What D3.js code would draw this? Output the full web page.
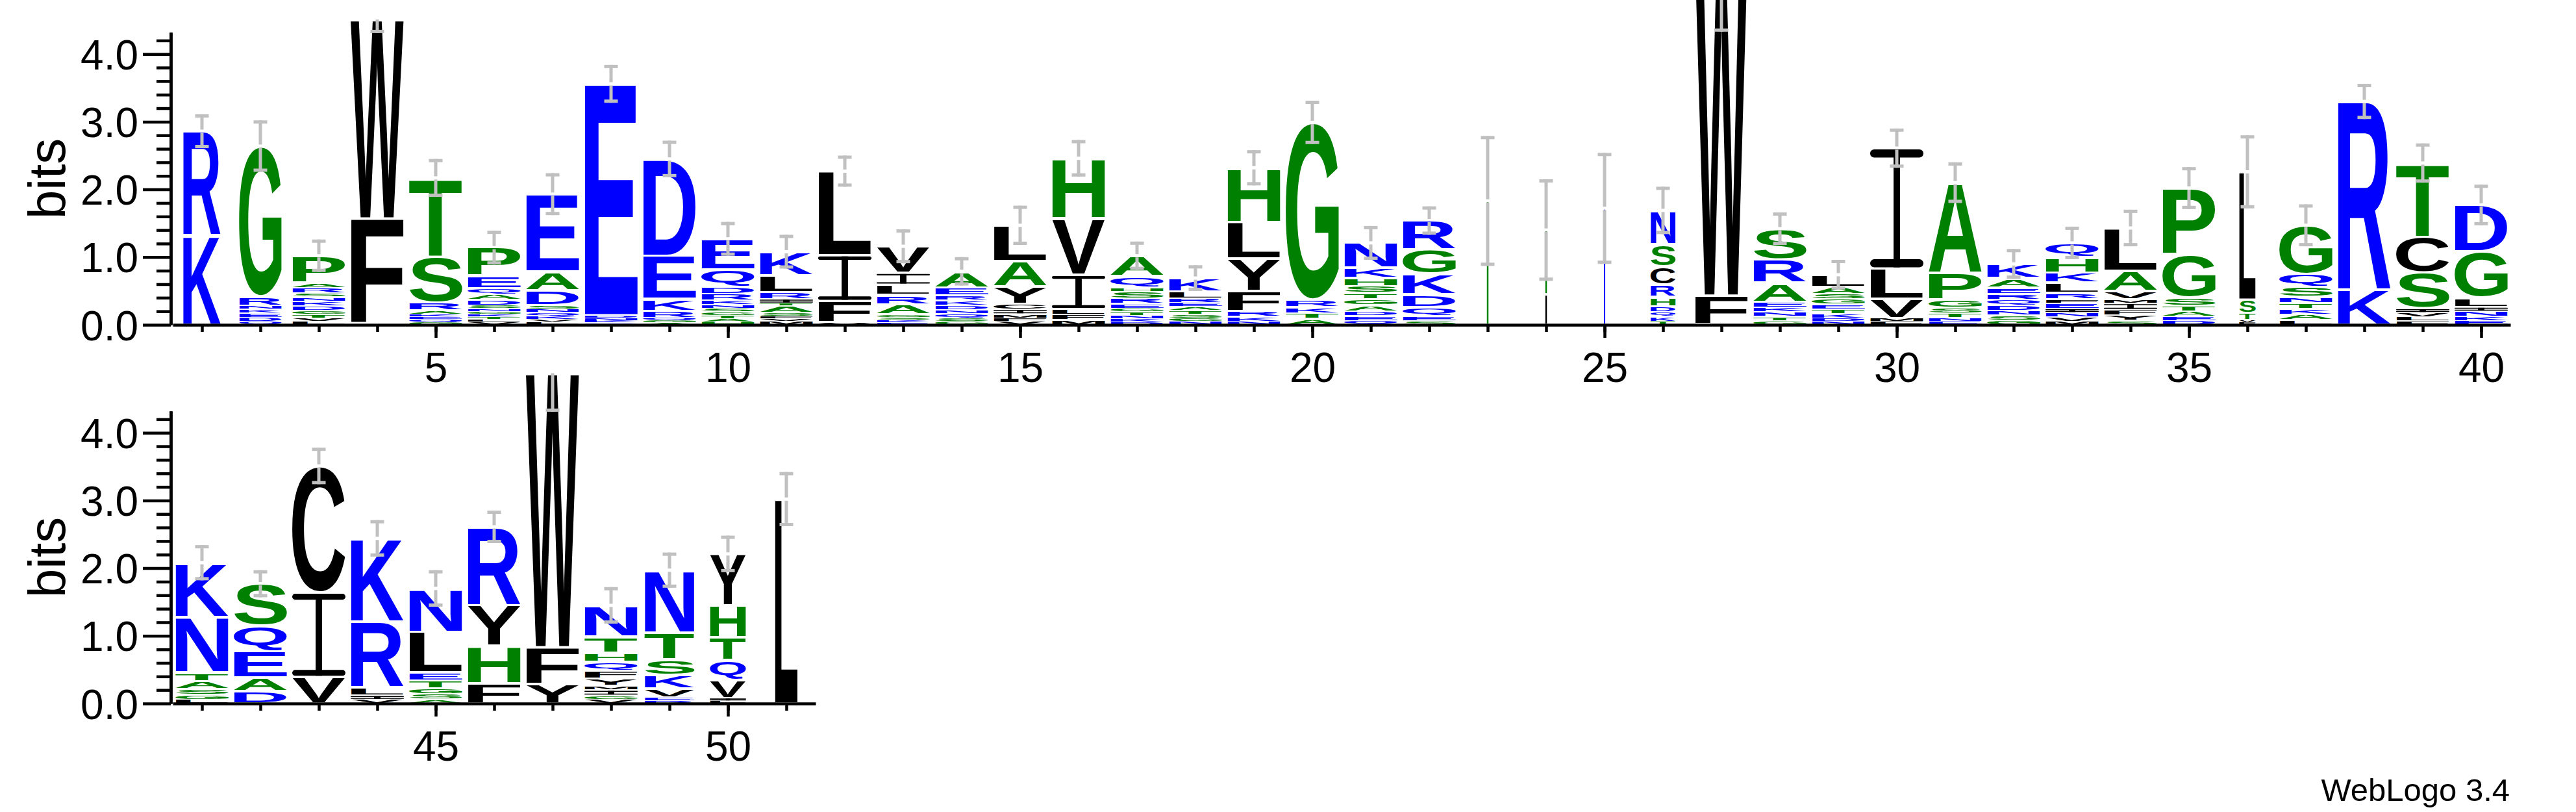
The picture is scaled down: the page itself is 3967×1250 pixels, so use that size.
<!DOCTYPE html>
<html><head><meta charset="utf-8">
<script src="https://cdn.jsdelivr.net/npm/d3@7"></script>
<style>body{margin:0;background:#fff}svg{display:block}</style>
</head><body>
<svg id="chart" width="3967" height="1250"></svg>
<script>
// ---------------- data ----------------
const positions = [1,2,3,4,5,6,7,8,9,10,11,12,13,14,15,16,17,18,19,20,21,22,23,24,25,26,27,28,29,30,31,32,33,34,35,36,37,38,39,40,41,42,43,44,45,46,47,48,49,50,51];

// letters of each stack, bottom -> top, with height in bits
const stackLetters = [
  "K1.32 R1.54",
  "Q.05 D.06 E.06 K.06 N.05 R.14 G2.22",
  "L.05 V.05 T.05 G.06 D.07 K.07 N.06 S.06 R.08 A.07 P.40",
  "F1.57 W2.94",
  "G.04 Q.04 E.04 K.04 A.05 R.12 S.68 T1.16",
  "V.04 L.04 T.04 K.04 G.04 N.04 S.05 D.08 A.08 Q.09 E.18 P.42",
  "L.04 V.04 K.05 Q.05 N.05 S.06 D.22 A.28 E1.14",
  "Q.03 K.03 N.04 D.04 E3.42",
  "A.03 G.03 Q.04 R.10 K.18 E.64 D1.43",
  "H.04 A.05 T.05 G.05 S.05 N.06 K.06 R.10 D.10 Q.26 E.45",
  "M.05 V.04 F.04 S.05 A.10 T.04 I.06 R.10 L.25 K.35",
  "V.03 F.32 I.68 L1.24",
  "E.03 K.04 S.04 G.04 A.15 R.14 L.15 I.18 V.39",
  "G.05 S.05 Q.06 N.06 D.07 K.07 R.07 E.12 A.24",
  "V.05 F.05 M.06 I.07 C.08 Y.26 A.37 L.53",
  "M.07 F.08 L.08 I.51 V.83 H.89",
  "D.04 K.05 N.05 T.05 G.05 E.07 R.08 S.10 H.06 Q.17 A.30",
  "N.05 G.05 S.06 T.05 A.06 E.06 R.06 L.10 K.20",
  "N.05 K.07 R.08 F.30 Y.48 L.54 H.80",
  "A.09 T.08 K.09 R.11 G2.62",
  "Q.06 E.07 D.07 A.09 G.09 T.09 S.10 H.12 K.15 N.37",
  "S.06 E.06 Q.14 D.19 K.30 G.36 R.43",
  "G1.83",
  "L.45 G.95",
  "N1.72",
  "T.05 K.07 Q.07 D.08 H.14 R.18 C.27 S.33 N.50",
  "F.43 W5.10",
  "G.06 T.06 N.07 K.07 E.08 A.28 R.34 S.46",
  "N.05 D.05 K.06 T.07 E.07 G.08 S.08 A.10 L.18",
  "F.05 M.05 V.28 L.45 I1.78",
  "E.05 N.05 T.07 S.08 G.12 P.40 A1.33",
  "G.07 S.07 N.07 D.08 Q.08 R.09 E.09 A.14 K.21",
  "M.05 V.06 N.07 I.06 E.08 F.06 R.09 L.15 K.15 H.23 Q.21",
  "S.06 Y.08 F.08 I.10 M.06 V.12 A.30 L.63",
  "D.06 E.06 A.08 T.08 S.12 G.63 P.99",
  "F.03 V.04 T.10 S.20 L1.89",
  "L.07 A.08 K.09 T.08 N.09 S.15 Q.19 G.72",
  "K.52 R2.78",
  "F.06 L.06 V.06 I.06 S.53 C.53 T1.09",
  "E.06 K.06 N.08 I.06 L.14 G.68 D.69",
  "L.06 G.07 S.08 A.12 T.13 N.82 K.80",
  "D.18 A.20 E.39 Q.38 S.62",
  "V.39 I1.25 C1.87",
  "V.06 I.06 L.12 R.97 K1.23",
  "A.06 S.08 G.08 T.12 E.12 L.60 N.64",
  "F.30 H.55 Y.60 R1.16",
  "Y.28 F.55 W4.05",
  "V.06 G.06 I.08 M.06 Y.10 F.12 Q.13 H.14 T.24 N.46",
  "R.04 E.05 V.13 K.20 S.23 T.40 N.92",
  "L.04 I.04 V.27 Q.29 T.34 H.47 Y.76",
  "L3.02"
];

// fraction of the full stack width (columns with many gaps are narrow)
const stackWidths = [
  0.71,0.80,1,1,1,1,1,1,1,1,
  1,1,1,1,1,1,1,1,1,1,
  1,1,0.03,0.03,0.025,0.47,1,1,1,1,
  1,1,1,1,1,0.31,1,1,1,1,
  1,1,1,1,1,1,1,1,0.94,0.68,0.43
];

// half length of the error bar, bits
const errorBars = [
  0.25,0.38,0.24,0.20,0.28,0.25,0.31,0.28,0.27,0.25,
  0.25,0.23,0.25,0.21,0.29,0.27,0.21,0.19,0.26,0.32,
  0.25,0.21,0.96,0.75,0.82,0.35,1.20,0.24,0.22,0.29,
  0.30,0.22,0.24,0.27,0.31,0.54,0.31,0.26,0.29,0.30,
  0.26,0.20,0.27,0.27,0.27,0.24,0.57,0.27,0.26,0.27,0.40
];

const yTickValues = [0,1,2,3,4];
const yTickLabels = ["0.0","1.0","2.0","3.0","4.0"];
const yMinorTicks = [0.2,0.4,0.6,0.8,1.2,1.4,1.6,1.8,2.2,2.4,2.6,2.8,3.2,3.4,3.6,3.8,4.2];
const xLabelPositions = [5,10,15,20,25,30,35,40,45,50];
const rowDefs = [{first:1,last:40},{first:41,last:51}];
const colorGroups = {blue:"RKDENQ", green:"SGHTAP", black:"YVMCLFIW"};
const yLabel = "bits";
const footer = "WebLogo 3.4";

// ---------------- layout ----------------
const FONT = '"Liberation Sans", Arial, Helvetica, sans-serif';
const Y_MAX = 4.32, BIT = 104.2, COL = 90, GLYPH_W = 82;
const AXIS_X = 263, PLOT_LEFT = 266;
const rowBaselines = [500, 1083];
const colors = {blue:"#0000ff", green:"#008000", black:"#000000"};
const colorOf = ch => colorGroups.blue.includes(ch) ? colors.blue : colorGroups.green.includes(ch) ? colors.green : colors.black;

const svg = d3.select("#chart");
svg.append("rect").attr("width",3967).attr("height",1250).attr("fill","#fff");

const ctx = document.createElement("canvas").getContext("2d");
ctx.font = `bold 100px ${FONT}`;
const cache = {};
function glyphBox(ch){
  if(!cache[ch]){
    const m = ctx.measureText(ch);
    cache[ch] = {l:m.actualBoundingBoxLeft, r:m.actualBoundingBoxRight, a:m.actualBoundingBoxAscent, d:m.actualBoundingBoxDescent};
  }
  return cache[ch];
}
function parseStack(s){
  return s.split(" ").map(t => [t[0], +t.slice(1)]);
}
function drawGlyph(g, ch, x0, y0, w, h){
  if(h <= 0) return;
  const fill = colorOf(ch);
  if(w < 4){
    // hairline column: the glyph collapses to a thin bar
    g.append("rect").attr("x", x0).attr("y", y0).attr("width", w).attr("height", h).attr("fill", fill);
    return;
  }
  if(ch === "I"){
    const t = Math.min(h/2, 0.062*h + 1.2);
    const sw = Math.max(w*0.12, 1);
    g.append("rect").attr("x", x0+(w-sw)/2).attr("y", y0).attr("width", sw).attr("height", h).attr("fill", fill);
    g.append("rect").attr("x", x0).attr("y", y0).attr("width", w).attr("height", t).attr("rx", t/2).attr("fill", fill);
    g.append("rect").attr("x", x0).attr("y", y0+h-t).attr("width", w).attr("height", t).attr("rx", t/2).attr("fill", fill);
    return;
  }
  const b = glyphBox(ch);
  const gw = b.l + b.r, gh = b.a + b.d;
  g.append("text").text(ch)
    .attr("font-family", FONT).attr("font-weight", "bold").attr("font-size", 100)
    .attr("fill", fill)
    .attr("transform", `translate(${x0},${y0}) scale(${w/gw},${h/gh}) translate(${b.l},${b.a})`);
}

rowDefs.forEach((row, ri) => {
  const base = rowBaselines[ri];
  const cols = positions.filter(p => p >= row.first && p <= row.last);
  const x = d3.scaleLinear().domain([row.first-0.5, row.last+0.5]).range([PLOT_LEFT, PLOT_LEFT + cols.length*COL]);
  const y = d3.scaleLinear().domain([0, Y_MAX]).range([base, base - Y_MAX*BIT]);
  const g = svg.append("g");

  // stacks
  const gl = g.append("g");
  const ge = g.append("g");
  cols.forEach(p => {
    const i = p - 1;
    const letters = parseStack(stackLetters[i]);
    const w = GLYPH_W * stackWidths[i];
    const xc = x(p);
    let acc = 0;
    letters.forEach(([ch, v]) => {
      const yTop = y(acc + v), yBot = y(acc);
      acc += v;
      const h = yBot - yTop;
      const inset = Math.min(2, h*0.15);
      drawGlyph(gl, ch, xc - w/2, yTop + inset, w, h - 2*inset);
    });
    // error bar
    const e = errorBars[i], gray = "#c0c0c0", lw = 5, cw = 21, ch = 5;
    const yt = y(acc);
    if(acc > Y_MAX){
      const yb = y(acc - e);
      ge.append("rect").attr("x", xc-lw/2).attr("y", yt).attr("width", lw).attr("height", yb-yt).attr("fill", gray);
      ge.append("rect").attr("x", xc-cw/2).attr("y", yb-ch).attr("width", cw).attr("height", ch).attr("fill", gray);
    } else {
      const yu = y(acc + e), yb = y(acc - e);
      ge.append("rect").attr("x", xc-lw/2).attr("y", yu).attr("width", lw).attr("height", Math.max(0, yt-2.5-yu)).attr("fill", gray);
      ge.append("rect").attr("x", xc-lw/2).attr("y", yt+2.5).attr("width", lw).attr("height", Math.max(0, yb-yt-2.5)).attr("fill", gray);
      ge.append("rect").attr("x", xc-cw/2).attr("y", yu).attr("width", cw).attr("height", ch).attr("fill", gray);
      ge.append("rect").attr("x", xc-cw/2).attr("y", yb-ch).attr("width", cw).attr("height", ch).attr("fill", gray);
    }
  });

  // y axis
  const yMinorAxis = g.append("g").attr("transform", `translate(${AXIS_X},0)`)
    .call(d3.axisLeft(y).tickValues(yMinorTicks).tickSize(22).tickSizeOuter(0).tickFormat(""));
  const yMajorAxis = g.append("g").attr("transform", `translate(${AXIS_X},0)`)
    .call(d3.axisLeft(y).tickValues(yTickValues).tickSize(43).tickSizeOuter(0).tickPadding(7).tickFormat((d,k) => yTickLabels[k]));
  yMajorAxis.selectAll("text").attr("dy", "0.36em");

  // x axis
  const xMinorAxis = g.append("g").attr("transform", `translate(0,${base})`)
    .call(d3.axisBottom(x).tickValues(cols).tickSize(11).tickSizeOuter(0).tickFormat(""));
  const xMajorAxis = g.append("g").attr("transform", `translate(0,${base})`)
    .call(d3.axisBottom(x).tickValues(xLabelPositions.filter(p => p >= row.first && p <= row.last)).tickSize(20).tickSizeOuter(0).tickPadding(23).tickFormat(d3.format("d")));
  xMajorAxis.select(".domain").remove();

  [yMinorAxis, yMajorAxis, xMinorAxis, xMajorAxis].forEach(a => {
    a.attr("font-family", FONT).attr("font-size", 64);
    a.selectAll("path,line").attr("stroke", "#000").attr("stroke-width", 4.5);
    a.selectAll("text").attr("fill", "#000");
  });

  // y label
  g.append("text").text(yLabel)
    .attr("transform", `translate(100,${(y(0)+y(Y_MAX))/2}) rotate(-90)`)
    .attr("text-anchor", "middle").attr("font-family", FONT).attr("font-size", 80).attr("fill", "#000");
});

svg.append("text").text(footer).attr("x", 3865).attr("y", 1233).attr("text-anchor", "end")
  .attr("font-family", FONT).attr("font-size", 49).attr("fill", "#000");
</script>
</body></html>
